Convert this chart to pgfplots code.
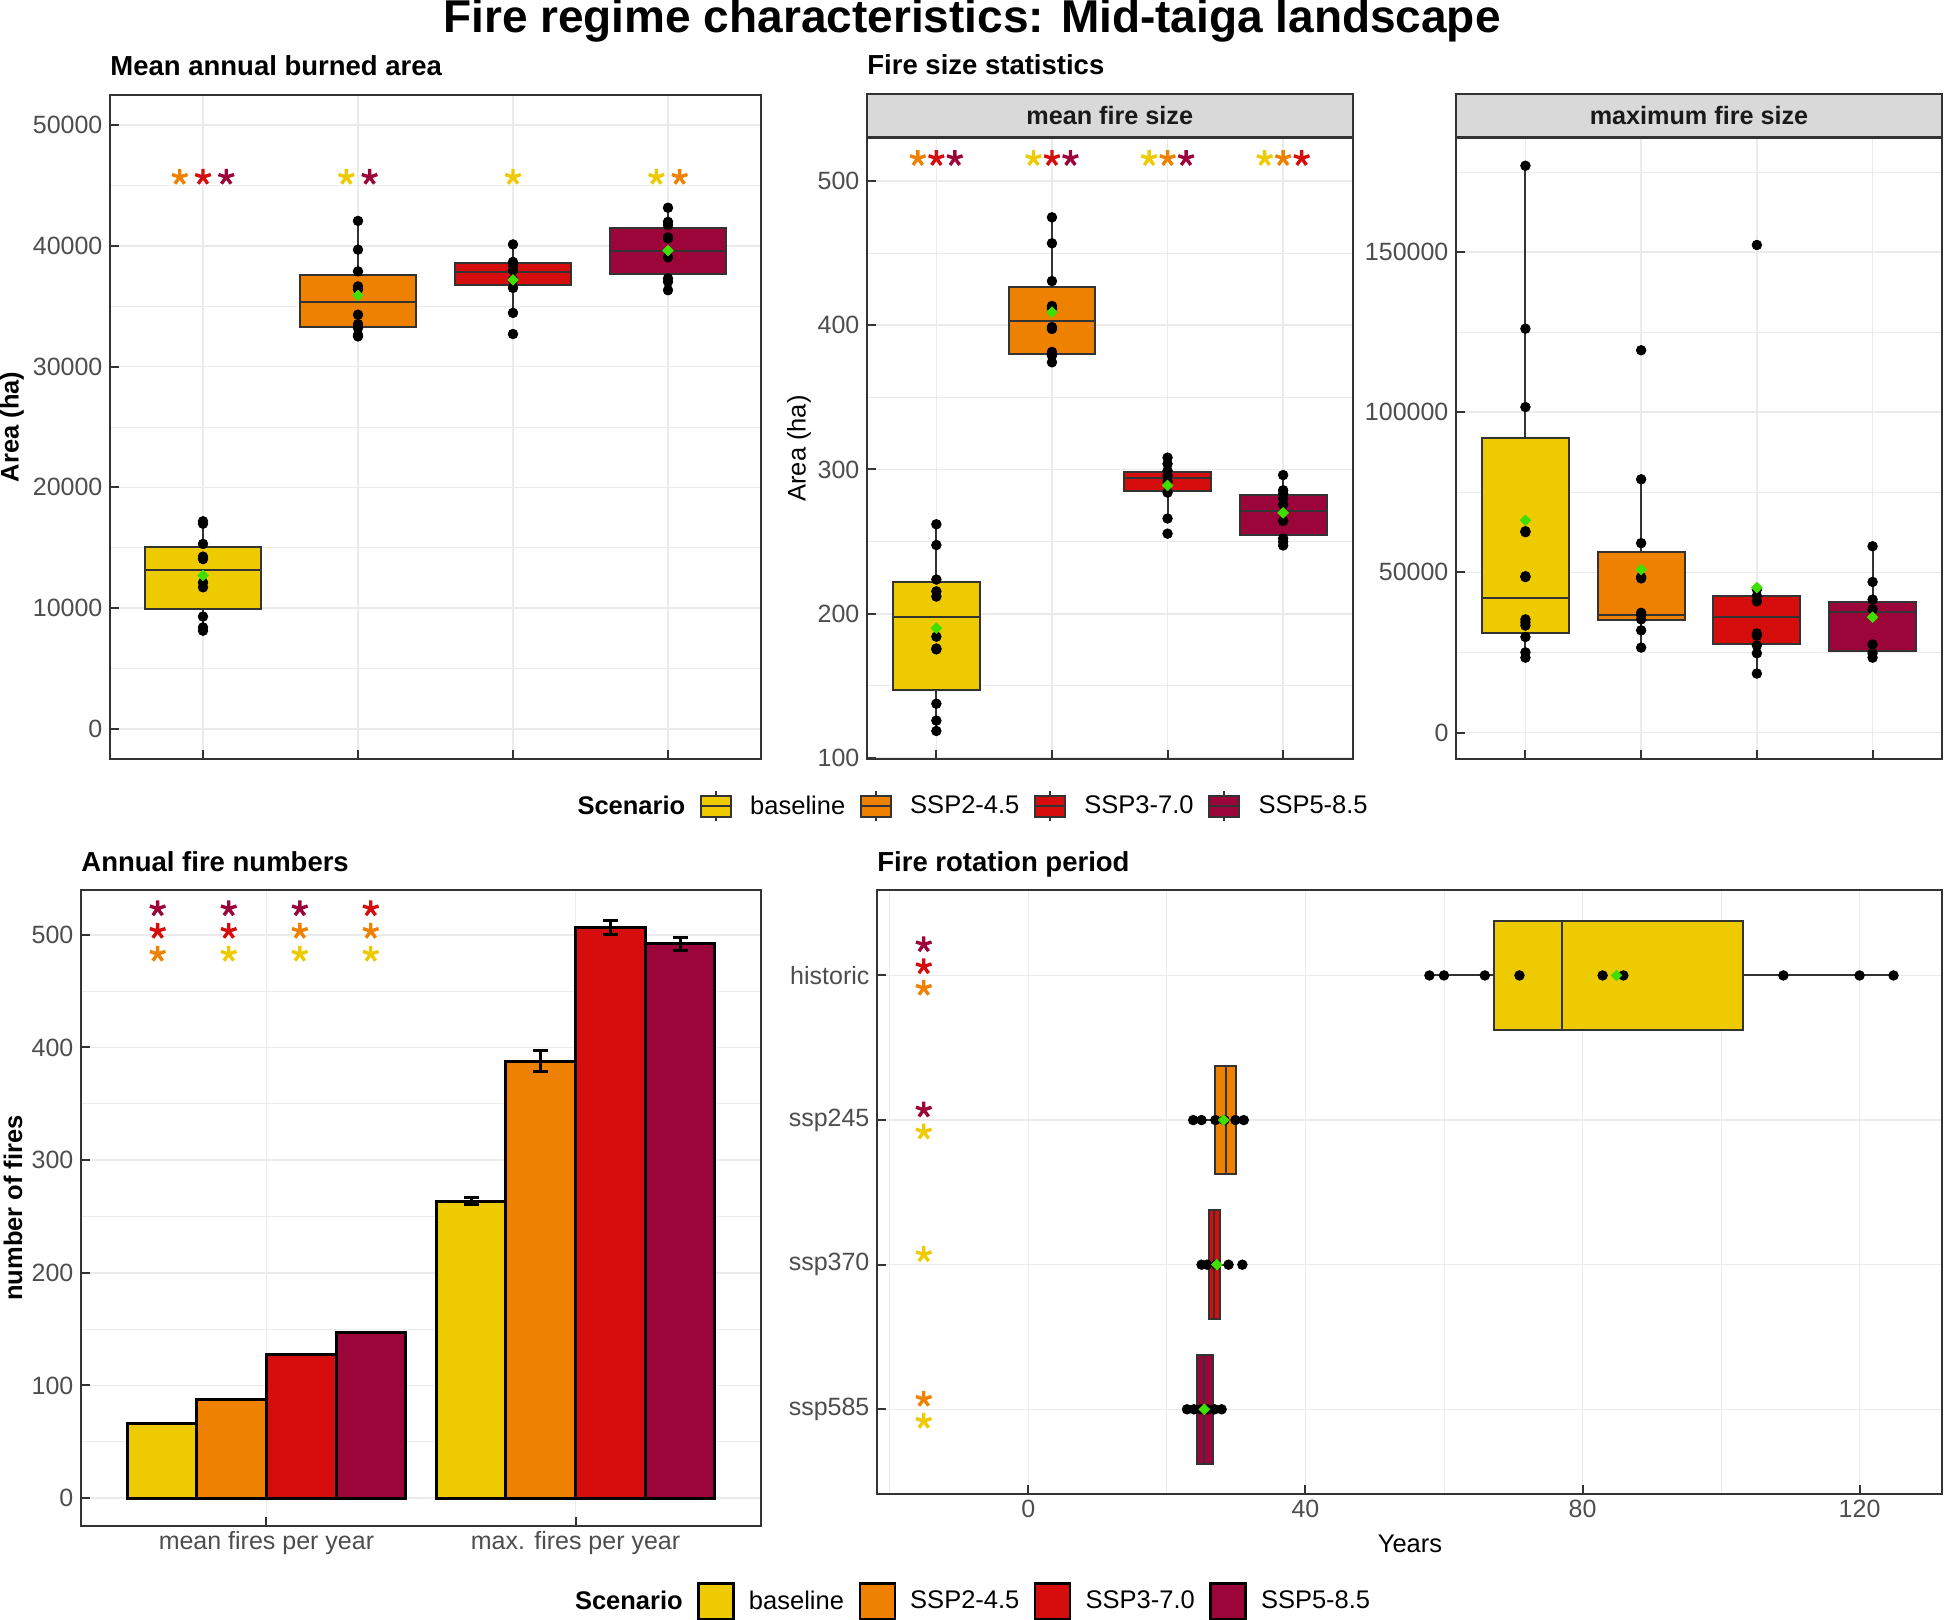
\documentclass[border=0pt]{standalone}
\usepackage{fontspec}
\setmainfont{Liberation Sans}
\usepackage{pgfplots}
\pgfplotsset{compat=1.18}
\definecolor{cyel}{HTML}{EDCB00}
\definecolor{cora}{HTML}{EF8100}
\definecolor{cred}{HTML}{D60D0D}
\definecolor{cpur}{HTML}{9B053A}
\definecolor{cgreen}{HTML}{3FE000}
\definecolor{c333}{HTML}{333333}
\definecolor{c4d}{HTML}{4D4D4D}
\definecolor{c1a}{HTML}{1A1A1A}
\definecolor{cgrid}{HTML}{EBEBEB}
\definecolor{cstrip}{HTML}{D9D9D9}
\pgfplotsset{
  ggbase/.style={
    scale only axis,
    scaled x ticks=false, scaled y ticks=false,
    axis line style={draw=c333, line width=1pt},
    tick align=inside, tick pos=left,
    major tick length=4.5pt, minor tick length=0pt,
    tick style={c333, line width=1pt},
    major grid style={cgrid, line width=0.8pt},
    minor grid style={cgrid, line width=0.4pt},
    tick label style={font=\fontsize{12.5}{15}\selectfont, text=c4d},
    yticklabel style={inner xsep=3.6pt, inner ysep=0pt},
    xticklabel style={inner ysep=2.4pt, inner xsep=0pt},
  },
  strip/.style={title={#1}, every axis title shift=0pt,
    title style={at={(0.5,1)}, anchor=south, yshift=0pt,
    minimum width=242.75pt, minimum height=21.5pt, inner sep=0pt, fill=cstrip, draw=c333,
    line width=1pt, font=\bfseries\fontsize{12.6}{15}\selectfont, text=c1a}},
  pts/.style={only marks, mark=*, mark size=2.4pt, color=black, mark options={draw=black, fill=black}},
  mn/.style={only marks, mark=square*, mark size=1.85pt, color=cgreen, mark options={rotate=45, draw=cgreen, fill=cgreen}},
  ast/.style={only marks, mark=star, mark size=4.1pt, color=#1, mark options={line width=1.7pt, solid}},
  bx/.style={draw=c333, fill=#1, line width=1pt, solid, mark=none},
  wl/.style={draw=c333, line width=1pt, solid, mark=none},
  barp/.style={ybar, bar width=0.2254, bar shift=0pt, fill=#1, draw=black, line width=1.5pt},
  errp/.style={error bars/.cd, y dir=both, y explicit, error mark=|,
    error bar style={line width=1.5pt, draw=black},
    error mark options={mark size=3.75pt, line width=1.5pt, draw=black}},
  legbox/.style={legend image code/.code={
     \draw[c333, line width=1pt] (7.5pt,-7.5pt) -- (7.5pt,7.5pt);
     \draw[draw=c333, fill=#1, line width=1pt] (0pt,-5.25pt) rectangle (15pt,5.25pt);
     \draw[c333, line width=1pt] (0pt,0pt) -- (15pt,0pt);
     \path (24.5pt,0pt);}},
  legbar/.style={legend image code/.code={
     \draw[draw=black, fill=#1, line width=1.25pt] (0pt,-9pt) rectangle (17.5pt,9pt);
     \path (25pt,0pt);}},
  legaxis/.style={at={(0pt,0pt)}, anchor=south west, scale only axis, width=972pt, height=810pt,
    scaled x ticks=false, scaled y ticks=false,
    xmin=0, xmax=1944, ymin=0, ymax=1620, hide axis, legend columns=-1, legend cell align=left,
    legend style={draw=none, fill=none, anchor=center, inner sep=0pt,
      font=\fontsize{12.75}{15}\selectfont, column sep=0pt,
      /tikz/every even column/.append style={column sep=7.3pt}, nodes={inner sep=0pt}}},
}
% vertical box: colour, left, centre, right, lower whisker, lower quartile, median, upper quartile, upper whisker
\newcommand{\vbx}[9]{%
  \addplot[wl] coordinates {(#3,#5) (#3,#6)};
  \addplot[wl] coordinates {(#3,#8) (#3,#9)};
  \addplot[bx=#1] coordinates {(#2,#6) (#4,#6) (#4,#8) (#2,#8)} -- cycle;
  \addplot[wl] coordinates {(#2,#7) (#4,#7)};
}
% horizontal box: colour, bottom, centre, top, lower whisker, lower quartile, median, upper quartile, upper whisker
\newcommand{\hbx}[9]{%
  \addplot[wl] coordinates {(#5,#3) (#6,#3)};
  \addplot[wl] coordinates {(#8,#3) (#9,#3)};
  \addplot[bx=#1] coordinates {(#6,#2) (#6,#4) (#8,#4) (#8,#2)} -- cycle;
  \addplot[wl] coordinates {(#7,#2) (#7,#4)};
}
\begin{document}
\begin{tikzpicture}
% ---------------- Panel 1: Mean annual burned area
\begin{axis}[ggbase, at={(55pt,430.5pt)}, anchor=south west, width=325.5pt, height=332pt,
  xmin=0.4, xmax=4.6, ymin=-2500, ymax=52500,
  xtick={1,2,3,4}, xticklabels={,,,},
  ytick={0,10000,20000,30000,40000,50000}, yticklabels={0,10000,20000,30000,40000,50000},
  minor ytick={5000,15000,25000,35000,45000},
  xmajorgrids, ymajorgrids, yminorgrids]
\vbx{cyel}{0.625}{1}{1.375}{8125}{9883}{13164}{15039}{17190}
\vbx{cora}{1.625}{2}{2.375}{32500}{33320}{35350}{37578}{42070}
\vbx{cred}{2.625}{3}{3.375}{34450}{36720}{37810}{38550}{40120}
\vbx{cpur}{3.625}{4}{4.375}{36330}{37700}{39570}{41520}{43160}
\addplot[pts] coordinates {(1,17190)(1,16990)(1,15310)(1,14260)(1,14060)(1,12110)(1,11720)(1,9300)(1,8400)(1,8125)
 (2,42070)(2,39690)(2,37890)(2,36640)(2,36400)(2,34300)(2,33520)(2,33200)(2,32620)(2,32500)
 (3,40120)(3,38670)(3,38360)(3,37970)(3,37190)(3,36520)(3,34450)(3,32700)
 (4,43160)(4,41990)(4,41720)(4,40700)(4,40620)(4,39060)(4,37300)(4,37030)(4,36330)};
\addplot[mn] coordinates {(1,12700)(2,35900)(3,37190)(4,39610)};
\addplot[ast=cora] coordinates {(0.85,45700)(4.075,45700)};
\addplot[ast=cred] coordinates {(1,45700)};
\addplot[ast=cpur] coordinates {(1.15,45700)(2.075,45700)};
\addplot[ast=cyel] coordinates {(1.925,45700)(3,45700)(3.925,45700)};
\end{axis}
% ---------------- Panel 2: mean fire size
\begin{axis}[ggbase, strip={mean fire size}, at={(433.5pt,430.5pt)}, anchor=south west, width=242.75pt, height=310.5pt,
  xmin=0.4, xmax=4.6, ymin=99.3, ymax=529.8,
  xtick={1,2,3,4}, xticklabels={,,,},
  ytick={100,200,300,400,500}, yticklabels={100,200,300,400,500},
  minor ytick={150,250,350,450},
  xmajorgrids, ymajorgrids, yminorgrids]
\vbx{cyel}{0.625}{1}{1.375}{118.7}{147.1}{197.5}{221.8}{262}
\vbx{cora}{1.625}{2}{2.375}{374.3}{380.2}{403.1}{426.7}{474.8}
\vbx{cred}{2.625}{3}{3.375}{266}{284.9}{294.1}{298.0}{308.2}
\vbx{cpur}{3.625}{4}{4.375}{247.3}{254.8}{270.9}{282.0}{296.1}
\addplot[pts] coordinates {(1,262)(1,247.6)(1,223.7)(1,215.5)(1,211.9)(1,184.1)(1,175.9)(1,175.3)(1,137.6)(1,125.9)(1,118.7)
 (2,474.8)(2,456.8)(2,430.6)(2,413.3)(2,411.6)(2,398.7)(2,397.4)(2,381.5)(2,378.9)(2,374.3)
 (3,308.2)(3,303.9)(3,299)(3,295.7)(3,291.5)(3,284)(3,266)(3,255.5)
 (4,296.1)(4,285.6)(4,283.3)(4,280)(4,275.8)(4,264.3)(4,252.2)(4,249.9)(4,247.3)};
\addplot[mn] coordinates {(1,190)(2,409)(3,288.9)(4,269.9)};
\addplot[ast=cora] coordinates {(0.84,515.7)(3,515.7)(4,515.7)};
\addplot[ast=cred] coordinates {(1,515.7)(2,515.7)(4.16,515.7)};
\addplot[ast=cpur] coordinates {(1.16,515.7)(2.16,515.7)(3.16,515.7)};
\addplot[ast=cyel] coordinates {(1.84,515.7)(2.84,515.7)(3.84,515.7)};
\end{axis}
% ---------------- Panel 3: maximum fire size
\begin{axis}[ggbase, strip={maximum fire size}, at={(728pt,430.5pt)}, anchor=south west, width=243pt, height=310.5pt,
  xmin=0.4, xmax=4.6, ymin=-8249, ymax=185593,
  xtick={1,2,3,4}, xticklabels={,,,},
  ytick={0,50000,100000,150000}, yticklabels={0,50000,100000,150000},
  minor ytick={25000,75000,125000,175000},
  xmajorgrids, ymajorgrids, yminorgrids]
\vbx{cyel}{0.625}{1}{1.375}{23370}{30930}{41930}{91840}{176930}
\vbx{cora}{1.625}{2}{2.375}{26530}{35060}{36710}{56500}{79050}
\vbx{cred}{2.625}{3}{3.375}{18420}{27770}{36160}{42755}{44680}
\vbx{cpur}{3.625}{4}{4.375}{23370}{25430}{37670}{40830}{58150}
\addplot[pts] coordinates {(1,176930)(1,126060)(1,101590)(1,62830)(1,62550)(1,48800)(1,48530)(1,35330)(1,34370)(1,33400)(1,29830)(1,25020)(1,23370)
 (2,119330)(2,79050)(2,59110)(2,48530)(2,48120)(2,37390)(2,36710)(2,35330)(2,31900)(2,26530)
 (3,152190)(3,44680)(3,42620)(3,40970)(3,30930)(3,30240)(3,27220)(3,24750)(3,18420)
 (4,58150)(4,47020)(4,41520)(4,38490)(4,27500)(4,24750)(4,23370)};
\addplot[mn] coordinates {(1,66260)(2,50870)(3,45230)(4,36020)};
\end{axis}
% ---------------- Panel 4: Annual fire numbers
\begin{axis}[ggbase, at={(40.5pt,47pt)}, anchor=south west, width=340pt, height=318pt,
  xmin=0.4, xmax=2.6, ymin=-24.7, ymax=539.8,
  xtick={1,2}, xticklabels={mean fires per year, max. fires per year},
  ytick={0,100,200,300,400,500}, yticklabels={0,100,200,300,400,500},
  minor ytick={50,150,250,350,450},
  xmajorgrids, ymajorgrids, yminorgrids]
\addplot[barp=cyel] coordinates {(0.6618,66.4)};
\addplot[barp=cora] coordinates {(0.8872,87.6)};
\addplot[barp=cred] coordinates {(1.1126,127.5)};
\addplot[barp=cpur] coordinates {(1.3380,146.6)};
\addplot[barp=cyel, errp] coordinates {(1.6618,263.7) +- (0,2.9)};
\addplot[barp=cora, errp] coordinates {(1.8872,387.9) +- (0,9.1)};
\addplot[barp=cred, errp] coordinates {(2.1126,506.2) +- (0,6.2)};
\addplot[barp=cpur, errp] coordinates {(2.3380,492.1) +- (0,5.8)};
\addplot[ast=cpur] coordinates {(0.648,523.3)(0.878,523.3)(1.108,523.3)};
\addplot[ast=cred] coordinates {(0.648,503.3)(0.878,503.3)(1.3375,523.3)};
\addplot[ast=cora] coordinates {(0.648,483)(1.108,503.3)(1.3375,503.3)};
\addplot[ast=cyel] coordinates {(0.878,483)(1.108,483)(1.3375,483)};
\end{axis}
% ---------------- Panel 5: Fire rotation period
\begin{axis}[ggbase, at={(438.5pt,62.75pt)}, anchor=south west, width=532.5pt, height=302.25pt,
  xmin=-21.85, xmax=131.9, ymin=0.411, ymax=4.591,
  xtick={0,40,80,120}, xticklabels={0,40,80,120}, minor xtick={-20,20,60,100},
  ytick={1,2,3,4}, yticklabels={ssp585,ssp370,ssp245,historic},
  xmajorgrids, xminorgrids, ymajorgrids]
\hbx{cyel}{3.625}{4}{4.375}{57.9}{67.2}{77.0}{103.2}{124.9}
\hbx{cora}{2.625}{3}{3.375}{23.8}{27.0}{28.5}{30.0}{31.1}
\hbx{cred}{1.625}{2}{2.375}{25.0}{26.05}{26.8}{27.7}{28.9}
\hbx{cpur}{0.625}{1}{1.375}{22.9}{24.3}{25.4}{26.7}{27.9}
\addplot[pts] coordinates {(57.9,4)(60,4)(65.9,4)(70.9,4)(82.9,4)(85.9,4)(109,4)(120,4)(124.9,4)
 (23.8,3)(25.0,3)(27.0,3)(28.3,3)(29.9,3)(31.1,3)
 (25.0,2)(25.8,2)(27.1,2)(28.9,2)(30.9,2)
 (22.9,1)(23.9,1)(24.9,1)(25.9,1)(26.9,1)(27.9,1)};
\addplot[mn] coordinates {(84.9,4)(28.2,3)(27.2,2)(25.4,1)};
\addplot[ast=cpur] coordinates {(-15.1,4.214)(-15.1,3.071)};
\addplot[ast=cred] coordinates {(-15.1,4.062)};
\addplot[ast=cora] coordinates {(-15.1,3.913)(-15.1,1.071)};
\addplot[ast=cyel] coordinates {(-15.1,2.919)(-15.1,2.071)(-15.1,0.919)};
\end{axis}
% ---------------- Legends
\begin{axis}[legaxis, legend style={at={(0.5003,0.5022)}}]
\addlegendimage{empty legend}\addlegendentry{\textbf{Scenario}}
\addlegendimage{legbox=cyel}\addlegendentry{baseline}
\addlegendimage{legbox=cora}\addlegendentry{SSP2-4.5}
\addlegendimage{legbox=cred}\addlegendentry{SSP3-7.0}
\addlegendimage{legbox=cpur}\addlegendentry{SSP5-8.5}
\end{axis}
\begin{axis}[legaxis, legend style={at={(0.5003,0.0115)}}]
\addlegendimage{empty legend}\addlegendentry{\textbf{Scenario}}
\addlegendimage{legbar=cyel}\addlegendentry{baseline}
\addlegendimage{legbar=cora}\addlegendentry{SSP2-4.5}
\addlegendimage{legbar=cred}\addlegendentry{SSP3-7.0}
\addlegendimage{legbar=cpur}\addlegendentry{SSP5-8.5}
\end{axis}
% ---------------- Titles and axis titles
\node[anchor=base, inner sep=0pt, font=\bfseries\fontsize{23}{28}\selectfont] at (486pt,793.5pt) {Fire regime characteristics: Mid-taiga landscape};
\node[anchor=base west, inner sep=0pt, font=\bfseries\fontsize{13.75}{16}\selectfont] at (55pt,772pt) {Mean annual burned area};
\node[anchor=base west, inner sep=0pt, font=\bfseries\fontsize{13.75}{16}\selectfont] at (433.5pt,772.5pt) {Fire size statistics};
\node[anchor=base west, inner sep=0pt, font=\bfseries\fontsize{13.75}{16}\selectfont] at (40.5pt,374.4pt) {Annual fire numbers};
\node[anchor=base west, inner sep=0pt, font=\bfseries\fontsize{13.75}{16}\selectfont] at (438.5pt,374.4pt) {Fire rotation period};
\node[rotate=90, inner sep=0pt, font=\bfseries\fontsize{12.75}{15}\selectfont] at (6pt,596.5pt) {Area (ha)};
\node[rotate=90, inner sep=0pt, font=\fontsize{12.75}{15}\selectfont] at (399.5pt,585.75pt) {Area (ha)};
\node[rotate=90, inner sep=0pt, font=\bfseries\fontsize{12.75}{15}\selectfont] at (6.5pt,206pt) {number of fires};
\node[inner sep=0pt, font=\fontsize{12.75}{15}\selectfont] at (705pt,38.2pt) {Years};
\pgfresetboundingbox
\path (0pt,0pt) rectangle (972pt,810pt);
\end{tikzpicture}
\end{document}
